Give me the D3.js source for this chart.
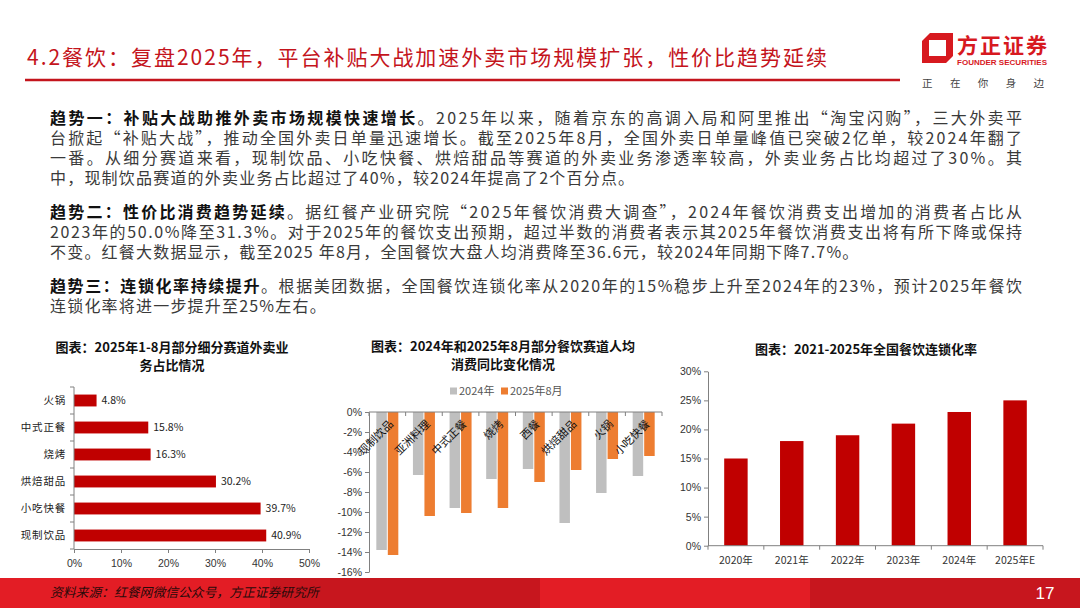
<!DOCTYPE html>
<html>
<head>
<meta charset="utf-8">
<script src="https://cdn.jsdelivr.net/npm/d3@7"></script>
<style>
body { margin: 0; background: #fff; }
svg { display: block; font-family: "Noto Sans CJK SC", "Noto Sans", sans-serif; }
</style>
</head>
<body>
<svg id="page" width="1080" height="608"></svg>
<script>
// chart 1: share of delivery business, Jan-Aug 2025
var shareCats = ["火锅", "中式正餐", "烧烤", "烘焙甜品", "小吃快餐", "现制饮品"];
var shareVals = [4.8, 15.8, 16.3, 30.2, 39.7, 40.9];
var shareTicks = [0, 10, 20, 30, 40, 50];

// chart 2: per-capita spend yoy change
var spendCats = ["现制饮品", "亚洲料理", "中式正餐", "烧烤", "西餐", "烘焙甜品", "火锅", "小吃快餐"];
var spend2024 = [-13.8, -6.3, -9.6, -6.7, -5.7, -11.1, -8.1, -6.4];
var spend2025 = [-14.3, -10.4, -10.1, -9.6, -7.0, -5.8, -4.7, -4.4];
var spendSeries = ["2024年", "2025年8月"];
var spendTicks = [0, -2, -4, -6, -8, -10, -12, -14, -16];

// chart 3: restaurant chain rate
var chainYears = ["2020年", "2021年", "2022年", "2023年", "2024年", "2025年E"];
var chainVals = [15, 18, 19, 21, 23, 25];
var chainTicks = [0, 5, 10, 15, 20, 25, 30];

// page text
var pageTitle = "4.2餐饮：复盘2025年，平台补贴大战加速外卖市场规模扩张，性价比趋势延续";
var paragraphs = [
  [
    [["趋势一：补贴大战助推外卖市场规模快速增长", 1], ["。2025年以来，随着京东的高调入局和阿里推出“淘宝闪购”，三大外卖平", 0]],
    [["台掀起“补贴大战”，推动全国外卖日单量迅速增长。截至2025年8月，全国外卖日单量峰值已突破2亿单，较2024年翻了", 0]],
    [["一番。从细分赛道来看，现制饮品、小吃快餐、烘焙甜品等赛道的外卖业务渗透率较高，外卖业务占比均超过了30%。其", 0]],
    [["中，现制饮品赛道的外卖业务占比超过了40%，较2024年提高了2个百分点。", 0]]
  ],
  [
    [["趋势二：性价比消费趋势延续", 1], ["。据红餐产业研究院“2025年餐饮消费大调查”，2024年餐饮消费支出增加的消费者占比从", 0]],
    [["2023年的50.0%降至31.3%。对于2025年的餐饮支出预期，超过半数的消费者表示其2025年餐饮消费支出将有所下降或保持", 0]],
    [["不变。红餐大数据显示，截至2025 年8月，全国餐饮大盘人均消费降至36.6元，较2024年同期下降7.7%。", 0]]
  ],
  [
    [["趋势三：连锁化率持续提升", 1], ["。根据美团数据，全国餐饮连锁化率从2020年的15%稳步上升至2024年的23%，预计2025年餐饮", 0]],
    [["连锁化率将进一步提升至25%左右。", 0]]
  ]
];

var RED = "#c00000";
var svg = d3.select("#page");

// ---------- header ----------
svg.append("text")
  .attr("x", 27).attr("y", 65)
  .attr("font-size", 21)
  .attr("fill", "#c4141c")
  .attr("textLength", 800)
  .attr("lengthAdjust", "spacing")
  .text(pageTitle);

svg.append("line")
  .attr("x1", 25).attr("x2", 900).attr("y1", 80).attr("y2", 80)
  .attr("stroke", "#c4141c").attr("stroke-width", 2.5);

// logo
svg.append("path")
  .attr("d", "M930,33 L953,33 L953,56 L946,63 L922,63 L922,41 Z M929,40 L929,56 L946,56 L946,40 Z")
  .attr("fill", "#d7191f").attr("fill-rule", "evenodd");
svg.append("text").attr("x", 957).attr("y", 53)
  .attr("font-size", 21).attr("font-weight", 700).attr("fill", "#d7191f")
  .attr("textLength", 90).attr("lengthAdjust", "spacing").text("方正证券");
svg.append("text").attr("x", 957).attr("y", 65)
  .attr("font-size", 8).attr("font-weight", 700).attr("fill", "#d7191f")
  .attr("font-family", "Liberation Sans, Arial, sans-serif")
  .attr("textLength", 90).attr("lengthAdjust", "spacingAndGlyphs").text("FOUNDER SECURITIES");
svg.append("text").attr("x", 922).attr("y", 87)
  .attr("font-size", 10.5).attr("fill", "#444")
  .attr("textLength", 122).attr("lengthAdjust", "spacing").text("正在你身边");

// ---------- paragraphs ----------
// each segment is its own text; spacing is shared so full lines are justified
var textLeft = 50, textRight = 1022;
var lineY = [[124, 144, 164, 184], [218, 238, 258], [292, 312]];
paragraphs.forEach(function(p, pi) {
  p.forEach(function(line, li) {
    var parts = line.map(function(seg) {
      var t = svg.append("text")
        .attr("y", lineY[pi][li])
        .attr("font-size", 16)
        .attr("font-weight", seg[1] ? 700 : 400)
        .attr("fill", seg[1] ? "#111" : "#3a3a3a")
        .text(seg[0]);
      return { t: t, w: t.node().getComputedTextLength(), n: Array.from(seg[0]).length };
    });
    var totalW = d3.sum(parts, function(d) { return d.w; });
    var totalN = d3.sum(parts, function(d) { return d.n; });
    var sp = li < p.length - 1 ? (textRight - textLeft - totalW) / (totalN - 1) : 1.2;
    var x = textLeft;
    parts.forEach(function(d) {
      d.t.attr("x", x).attr("letter-spacing", sp.toFixed(3));
      x += d.w + d.n * sp;
    });
  });
});

// chart titles
function chartTitle(lines, cx, y0) {
  lines.forEach(function(s, i) {
    svg.append("text")
      .attr("x", cx).attr("y", y0 + i * 18)
      .attr("text-anchor", "middle")
      .attr("font-size", 13).attr("font-weight", 700).attr("fill", "#111")
      .text(s);
  });
}

function styleAxis(g) {
  g.selectAll("path, line").attr("stroke", "#808080");
  g.selectAll("text").attr("fill", "#333").attr("font-size", 10.5)
    .attr("font-family", "Liberation Sans, Arial, sans-serif");
}

// ---------- chart 1 ----------
chartTitle(["图表：2025年1-8月部分细分赛道外卖业", "务占比情况"], 172, 352);

var x1 = d3.scaleLinear().domain([0, 50]).range([74, 309]);
var y1 = d3.scaleBand().domain(shareCats).range([387, 549]);
var c1 = svg.append("g");

c1.selectAll("rect").data(shareCats).enter().append("rect")
  .attr("x", x1(0))
  .attr("y", function(d) { return y1(d) + y1.bandwidth() * 0.28; })
  .attr("height", y1.bandwidth() * 0.44)
  .attr("width", function(d, i) { return x1(shareVals[i]) - x1(0); })
  .attr("fill", RED);

c1.selectAll(".val").data(shareCats).enter().append("text")
  .attr("x", function(d, i) { return x1(shareVals[i]) + 5; })
  .attr("y", function(d) { return y1(d) + y1.bandwidth() / 2; })
  .attr("dy", "0.35em")
  .attr("font-size", 10.5).attr("fill", "#222")
  .text(function(d, i) { return shareVals[i].toFixed(1) + "%"; });

c1.selectAll(".cat").data(shareCats).enter().append("text")
  .attr("x", 66)
  .attr("y", function(d) { return y1(d) + y1.bandwidth() / 2; })
  .attr("dy", "0.35em").attr("text-anchor", "end")
  .attr("font-size", 10.5).attr("fill", "#222")
  .attr("letter-spacing", 0.8)
  .text(function(d) { return d; });

var ax1 = c1.append("g").attr("transform", "translate(0,549)")
  .call(d3.axisBottom(x1).tickValues(shareTicks).tickSize(4).tickSizeOuter(0)
    .tickFormat(function(d) { return d + "%"; }));
styleAxis(ax1);
ax1.selectAll("text").attr("dy", "1em");

c1.append("line").attr("x1", 74).attr("x2", 74).attr("y1", 387).attr("y2", 549).attr("stroke", "#808080");
c1.selectAll(".bt").data(shareCats.map(function(d) { return y1(d); }).concat([549])).enter().append("line")
  .attr("x1", 70).attr("x2", 74)
  .attr("y1", function(d) { return d; }).attr("y2", function(d) { return d; })
  .attr("stroke", "#808080");

// ---------- chart 2 ----------
chartTitle(["图表：2024年和2025年8月部分餐饮赛道人均", "消费同比变化情况"], 503, 351);

var x2 = d3.scaleBand().domain(spendCats).range([369, 662]);
var y2 = d3.scaleLinear().domain([-16, 0]).range([572, 412]);
var barW = 10.5;
var spendColors = ["#bfbfbf", "#ed7d31"];
var c2 = svg.append("g");

// legend
spendSeries.forEach(function(s, i) {
  var lx = 450 + i * 51;
  c2.append("rect").attr("x", lx).attr("y", 387.5).attr("width", 7).attr("height", 7).attr("fill", spendColors[i]);
  c2.append("text").attr("x", lx + 9).attr("y", 391).attr("dy", "0.35em")
    .attr("font-size", 11).attr("fill", "#555").text(s);
});

[spend2024, spend2025].forEach(function(vals, si) {
  c2.selectAll(".s" + si).data(spendCats).enter().append("rect")
    .attr("x", function(d) { return x2(d) + x2.bandwidth() / 2 - barW + si * (barW + 1) - 0.5; })
    .attr("y", y2(0))
    .attr("width", barW)
    .attr("height", function(d, i) { return y2(vals[i]) - y2(0); })
    .attr("fill", spendColors[si]);
});

var ax2 = c2.append("g").attr("transform", "translate(369,0)")
  .call(d3.axisLeft(y2).tickValues(spendTicks).tickSize(4).tickSizeOuter(0)
    .tickFormat(function(d) { return d + "%"; }));
styleAxis(ax2);

c2.append("line").attr("x1", 369).attr("x2", 662).attr("y1", y2(0)).attr("y2", y2(0)).attr("stroke", "#808080");
c2.selectAll(".bt").data(spendCats.map(function(d) { return x2(d); }).concat([662])).enter().append("line")
  .attr("x1", function(d) { return d; }).attr("x2", function(d) { return d; })
  .attr("y1", y2(0)).attr("y2", y2(0) + 4)
  .attr("stroke", "#808080");

c2.selectAll(".cat").data(spendCats).enter().append("text")
  .attr("transform", function(d) {
    return "translate(" + (x2(d) + x2.bandwidth() / 2 + 4) + "," + (y2(0) + 10) + ") rotate(-45)";
  })
  .attr("text-anchor", "end").attr("dy", "0.35em")
  .attr("font-size", 11).attr("fill", "#111")
  .text(function(d) { return d; });

// ---------- chart 3 ----------
chartTitle(["图表：2021-2025年全国餐饮连锁化率"], 866, 354);

var x3 = d3.scaleBand().domain(chainYears).range([708, 1043]).paddingInner(0.58).paddingOuter(0.29);
var y3 = d3.scaleLinear().domain([0, 30]).range([545.7, 371.3]);
var c3 = svg.append("g");

c3.selectAll("rect").data(chainYears).enter().append("rect")
  .attr("x", function(d) { return x3(d); })
  .attr("y", function(d, i) { return y3(chainVals[i]); })
  .attr("width", x3.bandwidth())
  .attr("height", function(d, i) { return y3(0) - y3(chainVals[i]); })
  .attr("fill", RED);

var ax3 = c3.append("g").attr("transform", "translate(708,0)")
  .call(d3.axisLeft(y3).tickValues(chainTicks).tickSize(4).tickSizeOuter(0)
    .tickFormat(function(d) { return d + "%"; }));
styleAxis(ax3);

c3.append("line").attr("x1", 708).attr("x2", 1043).attr("y1", y3(0)).attr("y2", y3(0)).attr("stroke", "#808080");
var step3 = x3.step();
c3.selectAll(".bt").data(d3.range(chainYears.length + 1)).enter().append("line")
  .attr("x1", function(i) { return 708 + i * step3; }).attr("x2", function(i) { return 708 + i * step3; })
  .attr("y1", y3(0)).attr("y2", y3(0) + 4)
  .attr("stroke", "#808080");
c3.selectAll(".cat").data(chainYears).enter().append("text")
  .attr("x", function(d) { return x3(d) + x3.bandwidth() / 2; })
  .attr("y", y3(0) + 15)
  .attr("text-anchor", "middle").attr("dy", "0.35em")
  .attr("font-size", 10.5).attr("fill", "#333")
  .text(function(d) { return d; });

// ---------- footer ----------
var footColors = ["#e31d25", "#c7161e", "#e31d25", "#c7161e"];
footColors.forEach(function(c, i) {
  svg.append("rect").attr("x", i * 270).attr("y", 578).attr("width", 270).attr("height", 30).attr("fill", c);
});
svg.append("text").attr("x", 50).attr("y", 597)
  .attr("font-size", 12.8).attr("font-style", "italic").attr("fill", "#2a0a0a")
  .text("资料来源：红餐网微信公众号，方正证券研究所");
svg.append("text").attr("x", 1045).attr("y", 599).attr("text-anchor", "middle")
  .attr("font-size", 17).attr("fill", "#fff")
  .attr("font-family", "Liberation Sans, Arial, sans-serif")
  .text("17");
</script>
</body>
</html>
